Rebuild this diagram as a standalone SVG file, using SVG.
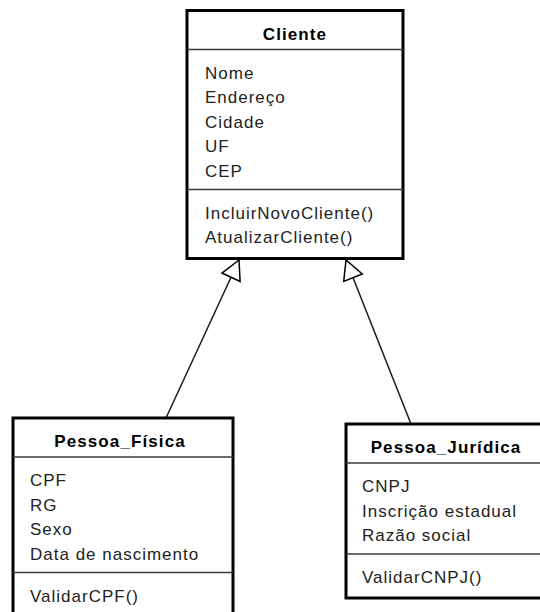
<svg xmlns="http://www.w3.org/2000/svg" width="540" height="612" viewBox="0 0 540 612">
  <style>
    .box { fill: #ffffff; stroke: #000000; stroke-width: 3; }
    .sep { stroke: #3a3a3a; stroke-width: 1.5; }
    .title { font-family: "Liberation Sans", Arial, sans-serif; font-size: 17px; font-weight: bold; fill: #000000; text-anchor: middle; letter-spacing: 1.1px; }
    .item { font-family: "Liberation Sans", Arial, sans-serif; font-size: 17px; fill: #222222; letter-spacing: 1px; }
    .edge { stroke: #1a1a1a; stroke-width: 1.5; fill: none; }
  </style>
  <defs>
    <!-- hollow triangle for UML generalization -->
    <marker id="inherit" markerUnits="userSpaceOnUse" markerWidth="30" markerHeight="30" refX="0" refY="0" orient="auto" overflow="visible">
      <path d="M0,0 L-19,-10 L-19,10 Z" fill="#ffffff" stroke="#000000" stroke-width="1.5" stroke-linejoin="miter"/>
    </marker>
  </defs>
  <rect width="540" height="612" fill="#ffffff"/>

  <!-- generalization connectors -->
  <g id="connectors">
    <line class="edge" x1="166" y1="418" x2="239" y2="260" marker-end="url(#inherit)"/>
    <line class="edge" x1="411" y1="424" x2="346" y2="260" marker-end="url(#inherit)"/>
  </g>

  <!-- Cliente -->
  <g id="cliente">
    <rect class="box" x="187" y="10.5" width="216" height="248"/>
    <text class="title" x="295" y="39.5">Cliente</text>
    <line class="sep" x1="187" y1="49.5" x2="403" y2="49.5"/>
    <text class="item" x="205" y="78.5">Nome</text>
    <text class="item" x="205" y="103">Endereço</text>
    <text class="item" x="205" y="127.5">Cidade</text>
    <text class="item" x="205" y="152">UF</text>
    <text class="item" x="205" y="176.5">CEP</text>
    <line class="sep" x1="187" y1="189.5" x2="403" y2="189.5"/>
    <text class="item" x="205" y="218.5">IncluirNovoCliente()</text>
    <text class="item" x="205" y="243">AtualizarCliente()</text>
  </g>

  <!-- Pessoa_Física -->
  <g id="pessoa-fisica">
    <rect class="box" x="13" y="418" width="220" height="200"/>
    <text class="title" x="120" y="446.5">Pessoa_Física</text>
    <line class="sep" x1="13" y1="457" x2="233" y2="457"/>
    <text class="item" x="30" y="486">CPF</text>
    <text class="item" x="30" y="510.5">RG</text>
    <text class="item" x="30" y="535">Sexo</text>
    <text class="item" x="30" y="559.5">Data de nascimento</text>
    <line class="sep" x1="13" y1="572.5" x2="233" y2="572.5"/>
    <text class="item" x="30" y="601.5">ValidarCPF()</text>
  </g>

  <!-- Pessoa_Jurídica -->
  <g id="pessoa-juridica">
    <rect class="box" x="346" y="424" width="198" height="174"/>
    <text class="title" x="446" y="452.5">Pessoa_Jurídica</text>
    <line class="sep" x1="346" y1="463" x2="544" y2="463"/>
    <text class="item" x="362" y="492">CNPJ</text>
    <text class="item" x="362" y="516.5">Inscrição estadual</text>
    <text class="item" x="362" y="541">Razão social</text>
    <line class="sep" x1="346" y1="554" x2="544" y2="554"/>
    <text class="item" x="362" y="583">ValidarCNPJ()</text>
  </g>
</svg>
